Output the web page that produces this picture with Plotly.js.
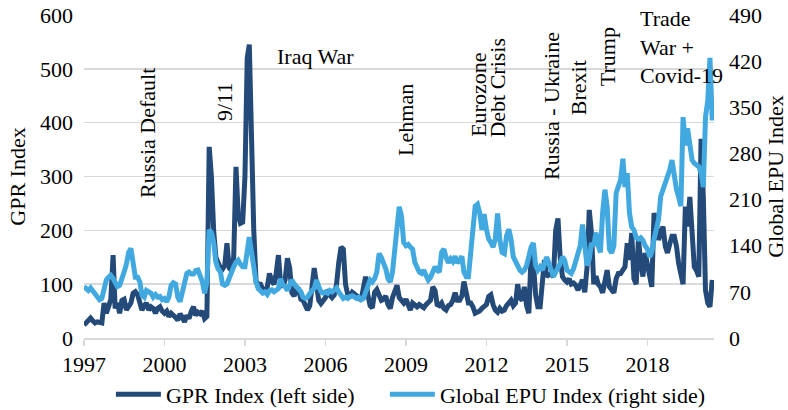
<!DOCTYPE html>
<html>
<head>
<meta charset="utf-8">
<script src="https://cdn.plot.ly/plotly-3.0.1.min.js"></script>
<style>
html,body{margin:0;padding:0;background:#fff;}
#chart{width:788px;height:410px;}
</style>
</head>
<body>
<div id="chart"></div>
<script>
// Monthly data, Jan 1997 - Jun 2020
const startYear = 1997;
const gprIndex = [
  24, 28, 33, 37, 32, 28, 30, 28, 28, 65, 46, 58,        // 1997
  72, 154, 55, 65, 46, 70, 72, 52, 60, 65, 83, 86,       // 1998
  80, 65, 52, 60, 65, 52, 58, 55, 46, 55, 58, 50,        // 1999
  46, 50, 40, 46, 43, 38, 33, 45, 38, 30, 42, 36,        // 2000
  50, 58, 42, 48, 45, 50, 36, 40, 355, 300, 200, 150,    // 2001
  140, 130, 128, 135, 176, 130, 125, 150, 318, 230, 213, 215, // 2002
  300, 520, 545, 330, 200, 105, 100, 100, 90, 82, 95, 120,    // 2003
  105, 100, 120, 154, 100, 95, 108, 148, 130, 84, 78, 90,     // 2004
  90, 72, 70, 62, 52, 60, 89, 130, 100, 70, 64, 68,      // 2005
  75, 84, 78, 75, 80, 100, 140, 169, 165, 100, 80, 78,   // 2006
  85, 82, 80, 75, 70, 95, 114, 80, 60, 56, 85, 90,       // 2007
  80, 70, 72, 78, 62, 55, 75, 90, 98, 75, 70, 65,        // 2008
  72, 60, 52, 65, 60, 58, 62, 60, 56, 62, 65, 70,        // 2009
  95, 88, 62, 60, 65, 55, 52, 60, 62, 70, 84, 70,        // 2010
  70, 78, 105, 84, 65, 65, 58, 46, 48, 50, 55, 58,       // 2011
  62, 77, 80, 62, 52, 48, 55, 50, 52, 60, 65, 70,        // 2012
  60, 65, 100, 75, 70, 95, 60, 46, 160, 140, 80, 58,     // 2013
  58, 120, 145, 114, 118, 118, 114, 200, 222, 150, 114, 108, // 2014
  104, 110, 100, 102, 98, 89, 100, 108, 85, 130, 238, 195,   // 2015
  100, 115, 100, 95, 84, 110, 126, 95, 90, 84, 110, 120,     // 2016
  120, 126, 132, 176, 145, 195, 110, 100, 185, 140, 114, 158, // 2017
  132, 115, 95, 232, 215, 182, 195, 207, 170, 158, 175, 189,  // 2018
  189, 170, 139, 120, 100, 244, 207, 262, 189, 132, 125, 114, // 2019
  370, 260, 89, 65, 58, 108                                  // 2020
];
const epuIndex = [
  78, 75, 72, 76, 72, 68, 62, 58, 60, 75, 88, 92,        // 1997
  95, 90, 82, 78, 80, 88, 100, 112, 130, 136, 115, 92,   // 1998
  92, 85, 65, 62, 72, 70, 68, 62, 66, 62, 63, 58,        // 1999
  60, 55, 62, 80, 84, 82, 62, 55, 72, 85, 98, 100,       // 2000
  97, 97, 102, 103, 95, 85, 68, 85, 164, 160, 145, 115,  // 2001
  105, 100, 82, 80, 82, 92, 100, 108, 115, 118, 112, 108, // 2002
  108, 130, 153, 130, 100, 85, 75, 70, 68, 70, 66, 72,   // 2003
  73, 70, 72, 75, 90, 80, 78, 72, 80, 88, 82, 78,        // 2004
  75, 70, 62, 60, 62, 68, 72, 75, 88, 78, 70, 68,        // 2005
  70, 68, 72, 70, 72, 76, 70, 64, 60, 62, 60, 63,        // 2006
  64, 62, 60, 62, 58, 60, 68, 80, 88, 85, 90, 100,       // 2007
  128, 122, 115, 105, 90, 85, 100, 140, 170, 199, 185, 145, // 2008
  140, 142, 138, 135, 115, 108, 100, 98, 103, 95, 88, 92,   // 2009
  100, 108, 103, 100, 130, 135, 122, 114, 120, 116, 124, 114, // 2010
  118, 124, 100, 93, 93, 130, 180, 200, 203, 190, 164, 188,  // 2011
  165, 150, 145, 138, 150, 189, 150, 130, 128, 155, 165, 150, // 2012
  123, 115, 108, 103, 100, 103, 110, 128, 138, 144, 110, 103, // 2013
  108, 103, 113, 123, 113, 100, 93, 100, 105, 113, 123, 118,  // 2014
  103, 100, 98, 105, 118, 128, 140, 172, 140, 110, 120, 144,  // 2015
  140, 160, 140, 130, 190, 225, 200, 135, 129, 140, 220, 232, // 2016
  240, 272, 229, 250, 190, 168, 164, 152, 150, 152, 148, 140, // 2017
  135, 123, 130, 150, 165, 180, 215, 225, 230, 245, 255, 270, // 2018
  240, 225, 214, 200, 335, 292, 318, 290, 270, 265, 262, 260, // 2019
  250, 229, 335, 360, 425, 330                               // 2020
];
const xTickYears = [1997, 2000, 2003, 2006, 2009, 2012, 2015, 2018];
const yLeftTicks = [0, 100, 200, 300, 400, 500, 600];
const yRightTicks = [0, 70, 140, 210, 280, 350, 420, 490];
const events = [
  {text: 'Russia Default', x: 0.1016, y: 0.635, angle: -90},
  {text: '9/11', x: 0.2238, y: 0.731, angle: -90},
  {text: 'Iraq War', x: 0.368, y: 0.870, angle: 0},
  {text: 'Lehman', x: 0.511, y: 0.675, angle: -90},
  {text: 'Eurozone', x: 0.625, y: 0.752, angle: -90},
  {text: 'Debt Crisis', x: 0.657, y: 0.775, angle: -90},
  {text: 'Russia - Ukraine', x: 0.741, y: 0.718, angle: -90},
  {text: 'Brexit', x: 0.786, y: 0.774, angle: -90},
  {text: 'Trump', x: 0.832, y: 0.870, angle: -90},
  {text: 'Trade<br>War +<br>Covid-19', x: 0.879, y: 0.901, angle: 0, left: true}
];

function pad(n){return n < 10 ? '0' + n : '' + n;}
const dates = gprIndex.map((_, i) => {
  const y = startYear + Math.floor(i / 12);
  const m = (i % 12) + 1;
  return y + '-' + pad(m) + '-01';
});

const FONT = "'Liberation Serif', 'Times New Roman', serif";
const DARK = '#234A78';
const LIGHT = '#42A9E0';

const traces = [
  {x: dates, y: gprIndex, type: 'scatter', mode: 'lines', name: 'GPR Index (left side)',
   line: {color: DARK, width: 5}, yaxis: 'y', legend: 'legend'},
  {x: dates, y: epuIndex, type: 'scatter', mode: 'lines', name: 'Global EPU Index (right side)',
   line: {color: LIGHT, width: 5}, yaxis: 'y2', legend: 'legend2'}
];

const annotations = events.map(e => ({
  text: e.text, xref: 'paper', yref: 'paper', x: e.x, y: e.y,
  xanchor: e.left ? 'left' : 'center', yanchor: 'middle', align: e.left ? 'left' : 'center',
  textangle: e.angle, showarrow: false,
  font: {family: FONT, size: 22, color: '#000'}
}));

const legendBase = {orientation: 'h', y: -0.175, xanchor: 'left', yanchor: 'middle',
  font: {family: FONT, size: 22, color: '#000'}, itemwidth: 45, bgcolor: 'rgba(0,0,0,0)'};

const layout = {
  width: 788, height: 410,
  margin: {l: 84, r: 74, t: 15, b: 72, autoexpand: false},
  paper_bgcolor: '#fff', plot_bgcolor: '#fff',
  font: {family: FONT, size: 22, color: '#000'},
  showlegend: true,
  legend: Object.assign({}, legendBase, {x: 0.0427}),
  legend2: Object.assign({}, legendBase, {x: 0.4776}),
  xaxis: {type: 'date', range: ['1997-01-01', '2020-06-25'],
          tickvals: xTickYears.map(y => y + '-01-01'),
          ticktext: xTickYears.map(String),
          ticks: 'outside', ticklen: 6, tickcolor: '#d9d9d9', tickwidth: 1.5,
          showline: true, linecolor: '#d9d9d9', linewidth: 1.5,
          showgrid: false, zeroline: false,
          tickfont: {family: FONT, size: 22, color: '#000'}, automargin: false},
  yaxis: {range: [0, 600], tickvals: yLeftTicks, showgrid: true, gridcolor: '#d9d9d9', gridwidth: 1.5,
          zeroline: false, showline: false, ticks: '', ticklabelstandoff: 10,
          tickfont: {family: FONT, size: 22, color: '#000'},
          title: {text: 'GPR Index', standoff: 8, font: {family: FONT, size: 22, color: '#000'}},
          automargin: false},
  yaxis2: {range: [0, 490], tickvals: yRightTicks, overlaying: 'y', side: 'right',
           showgrid: false, zeroline: false, showline: false, ticks: '', ticklabelstandoff: 14,
           tickfont: {family: FONT, size: 22, color: '#000'},
           title: {text: 'Global EPU Index', standoff: 8, font: {family: FONT, size: 22, color: '#000'}},
           automargin: false},
  annotations: annotations
};

Plotly.newPlot('chart', traces, layout, {staticPlot: true, displayModeBar: false});
</script>
</body>
</html>
